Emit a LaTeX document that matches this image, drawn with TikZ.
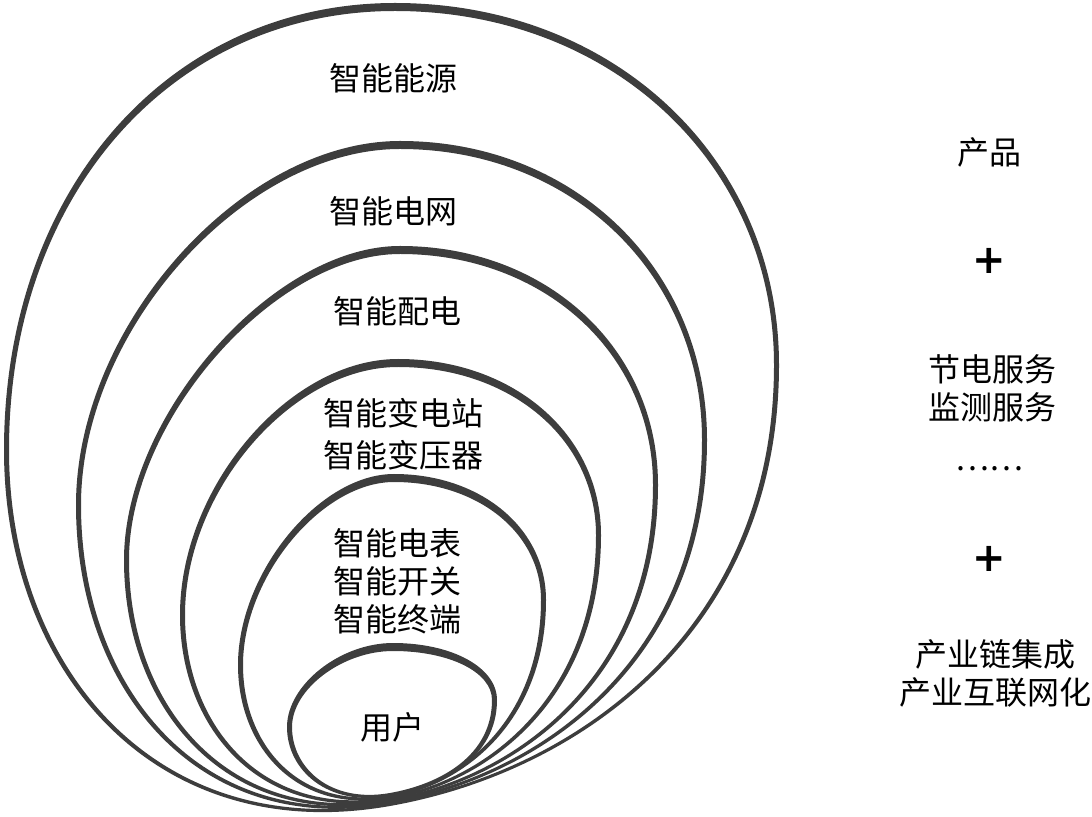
\documentclass[tikz,border=0pt]{standalone}
\usepackage{fontspec}
\usepackage{xcolor}
\usepackage{tikz}
\usetikzlibrary{positioning,calc}
\newfontfamily\cjk{Noto Sans CJK SC}
\newfontfamily\plusfont{DejaVu Sans}
\definecolor{ringgray}{rgb}{0.24,0.24,0.24}

% egg shaped loop: #1 bottom, #2 left, #3 top, #4 right, #5 bulge of upper left
\newcommand{\eggpath}[5]{%
  let \p1=#1, \p2=#2, \p3=#3, \p4=#4 in
  (\p1) .. controls ({\x1+0.61*(\x2-\x1)},{\y1+0.108*(\x2-\x1)}) and (\x2,{\y2+0.62*(\y1-\y2)}) .. (\p2)
        .. controls (\x2,{\y2+#5*(\y3-\y2)}) and ({\x3+#5*(\x2-\x3)},\y3) .. (\p3)
        .. controls ({\x3+0.57*(\x4-\x3)},\y3) and (\x4,{\y4+0.57*(\y3-\y4)}) .. (\p4)
        .. controls (\x4,{\y4+0.6*(\y1-\y4)}) and ({\x1+0.492*(\x4-\x1)},{\y1+0.087*(\x4-\x1)}) .. (\p1)
        -- cycle}

\begin{document}
\begin{tikzpicture}[x=0.5pt,y=-0.5pt,node distance=20pt,on grid,
   ring/.style={fill=ringgray,even odd rule},
   lbl/.style={font=\cjk\fontsize{16}{19}\selectfont,align=center,inner sep=0pt},
   plus/.style={font=\plusfont\bfseries\fontsize{20}{20}\selectfont,inner sep=0pt}]
  \useasboundingbox (0,0) rectangle (1092,817);

  % the six loops, all standing on the same bottom
  \foreach \xl/\yl/\xt/\yt/\xr/\yr/\ka/\yb in {4/450/395/3/779/365/0.58/806,
      76/505/400/141/707/440/0.49/804, 124/560/400/246/658/485/0.46/802,
      180/615/398/359/601/535/0.5/800, 238/665/394/474/546/600/0.48/798,
      287/727/393/643/497/700/0.5/796}
    \fill[ring] \eggpath{(390,\yb)}{(\xl,\yl)}{(\xt,\yt)}{(\xr,\yr)}{\ka}
                \eggpath{(390,\yb-3)}{(\xl+5,\yl)}{(\xt,\yt+8)}{(\xr-5,\yr)}{\ka};

  % labels inside the loops
  \node[lbl] (energy) at (393,78)  {智能能源};
  \node[lbl] (grid)   at (393,211) {智能电网};
  \node[lbl] (distr)  at (397,311) {智能配电};
  \node[lbl,font=\cjk\fontsize{16}{21}\selectfont] (subst) at (403,434) {智能变电站\\智能变压器};
  \node[lbl] (meter)  at (397,581) {智能电表\\智能开关\\智能终端};
  \node[lbl] (user)   at (392,727) {用户};

  % right column
  \node[lbl] (product) at (989,152) {产品};
  \node[plus,below=54.5pt of product] (plusA) {+};
  \node[lbl,below=63.5pt of plusA,xshift=1.5pt] (service) {节电服务\\监测服务};
  \node[lbl,below=39pt of plusA.center,yshift=-63.5pt] (dots) {……};
  \node[plus,below=45pt of dots] (plusB) {+};
  \node[lbl,below=57.5pt of plusB,xshift=3pt] (chain) {产业链集成\\产业互联网化};
\end{tikzpicture}
\end{document}
